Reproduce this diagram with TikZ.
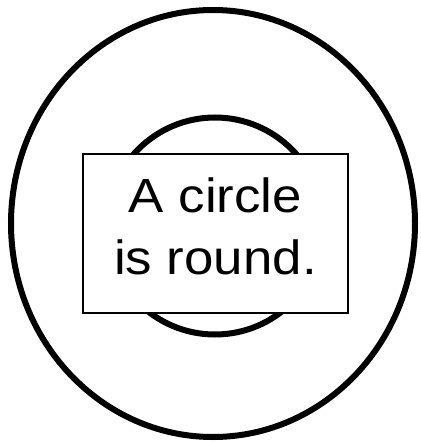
\documentclass[tikz,border=0pt]{standalone}
\usepackage{fontspec}
\setmainfont{Liberation Sans}
\usetikzlibrary{shapes.geometric}
\newcommand{\wide}[1]{\scalebox{1.1}[1]{#1}}
\tikzset{
  ring/.style={draw,ellipse,inner sep=0pt,line width=6pt},
  caption/.style={draw,fill=white,line width=1.2pt,inner sep=0pt,
    minimum width=265pt,minimum height=159pt,align=center,text depth=14pt,
    font=\fontsize{48}{62}\selectfont}
}
\begin{document}
\begin{tikzpicture}[x=1pt,y=-1pt]
\useasboundingbox (0,0) rectangle (420,446);
\node[ring,minimum width=404pt,minimum height=427pt] (outer) at (213,223.5) {};
\node[ring,minimum width=217pt,minimum height=217pt] (inner) at (215,226) {};
\node[caption] (label) at (215.5,233.5) {\wide{A circle}\\\wide{is round.}};
\end{tikzpicture}
\end{document}
